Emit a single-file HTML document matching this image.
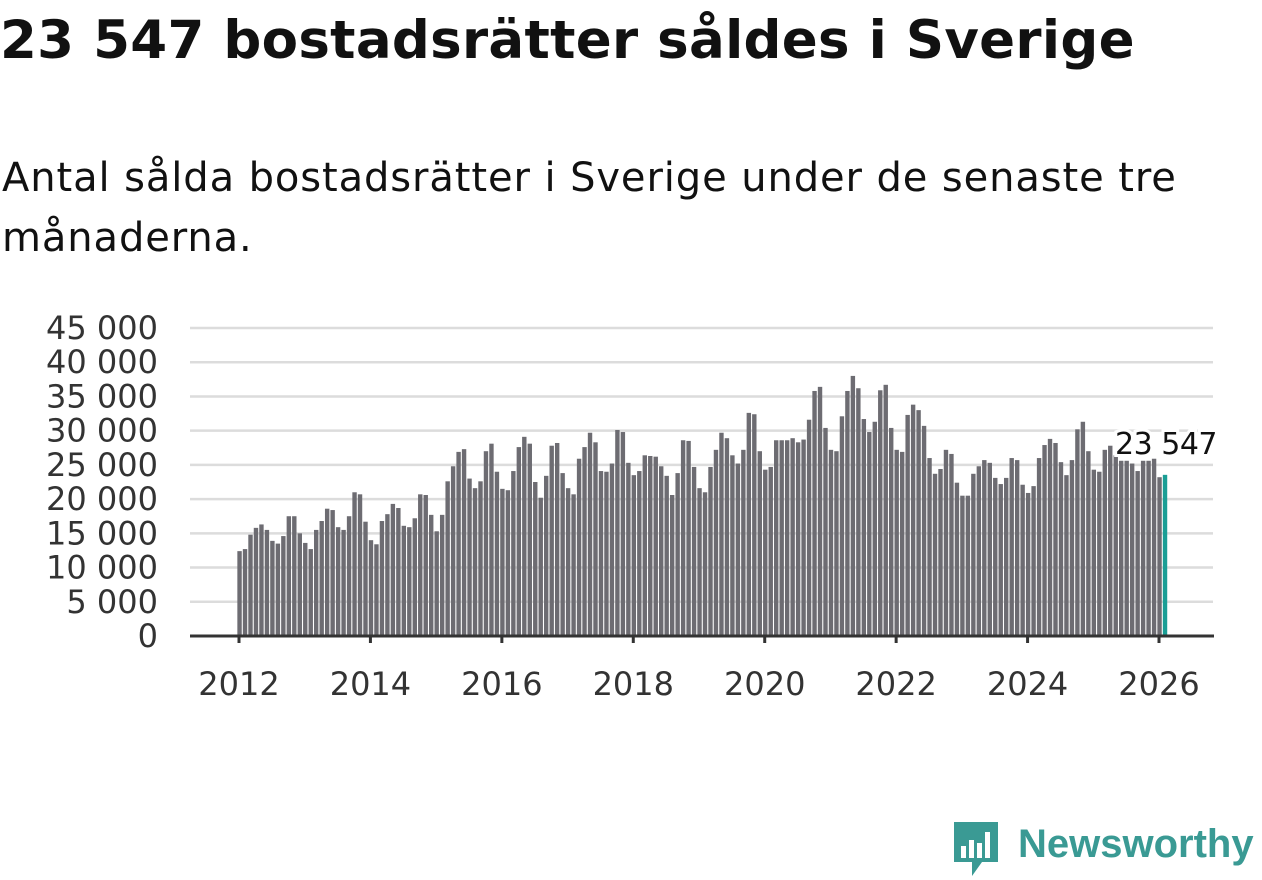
<!DOCTYPE html>
<html><head><meta charset="utf-8"><style>
body{margin:0;width:1262px;height:879px;background:#fff;overflow:hidden;font-family:"DejaVu Sans","Liberation Sans",sans-serif;color:#111}
h1{position:absolute;left:0px;top:10px;margin:0;font-size:53px;font-weight:bold;letter-spacing:0.3px;white-space:nowrap}
p{position:absolute;left:2px;top:148px;margin:0;font-size:40px;line-height:60px;width:1240px;letter-spacing:0.9px}
svg{position:absolute;left:0;top:0}
</style></head><body>
<h1>23 547 bostadsrätter såldes i Sverige</h1>
<p>Antal sålda bostadsrätter i Sverige under de senaste tre<br>månaderna.</p>
<svg id="c" width="1262" height="879"></svg>
<script>
const yTicks=[0,5000,10000,15000,20000,25000,30000,35000,40000,45000];
const yTickLabels=["0","5 000","10 000","15 000","20 000","25 000","30 000","35 000","40 000","45 000"];
const xTicks=[2012,2014,2016,2018,2020,2022,2024,2026];
const startYear=2012;
const values=[
12400,12700,14800,15800,16300,15500,13900,13500,14600,17500,17500,15000,
13600,12700,15500,16800,18600,18400,15900,15500,17500,21000,20700,16700,
14000,13400,16800,17800,19300,18700,16100,15900,17200,20700,20600,17700,
15300,17700,22600,24800,26900,27300,23000,21600,22600,27000,28100,24000,
21500,21300,24100,27600,29100,28100,22500,20200,23400,27800,28200,23800,
21600,20700,25900,27600,29700,28300,24100,24000,25200,30100,29800,25300,
23500,24100,26400,26300,26200,24800,23400,20600,23800,28600,28500,24700,
21600,21000,24700,27200,29700,28900,26400,25200,27200,32600,32400,27000,
24300,24700,28600,28600,28600,28900,28300,28700,31600,35800,36400,30400,
27200,27000,32100,35800,38000,36200,31700,29800,31300,35900,36700,30400,
27200,26900,32300,33800,33000,30700,26000,23700,24400,27200,26600,22400,
20500,20500,23700,24800,25700,25300,23100,22200,23100,26000,25700,22100,
20900,21900,26000,27900,28800,28200,25400,23500,25700,30200,31300,27000,
24300,24000,27200,27800,26400,25600,25600,25200,24100,25600,25600,25900,
23200,23547];
const lastLabel="23 547";
const svg=document.getElementById('c');const NS='http://www.w3.org/2000/svg';
function el(t,a,p){const e=document.createElementNS(NS,t);for(const k in a)e.setAttribute(k,a[k]);(p||svg).appendChild(e);return e;}
const y=v=>636-v*(308/45000);
const x=yr=>239+(yr-2012)*(920/14);
const bw=4.4, mw=920/14/12;
yTicks.forEach((t,i)=>{
 if(t>0){const g=el('line',{x1:190,x2:1213,y1:y(t),y2:y(t),stroke:'#dcdcdc','stroke-width':2.5});
 
 }
 const l=el('text',{x:158,y:y(t)+11,'text-anchor':'end','font-size':32,fill:'#333'});l.textContent=yTickLabels[i];
 
 
});
values.forEach((v,i)=>{
 const cx=x(startYear)+i*mw;
 const last=i===values.length-1;
 const r=el('rect',{x:cx-bw/2+mw*0.1,y:y(v),width:bw,height:636-y(v),fill:last?'#1a9e95':'#6d6c72'});
 
 
});
const ax=el('line',{x1:190,x2:1214,y1:636,y2:636,stroke:'#333','stroke-width':3});


xTicks.forEach(t=>{
 el('line',{x1:x(t),x2:x(t),y1:636,y2:643,stroke:'#333','stroke-width':3});
 const l=el('text',{x:x(t),y:695,'text-anchor':'middle','font-size':32,fill:'#333'});l.textContent=t;
 
 
});
const vl=el('text',{x:1217,y:454,'text-anchor':'end','font-size':30,fill:'#111',stroke:'#fff','stroke-width':6,'paint-order':'stroke','letter-spacing':'-0.5'});vl.textContent=lastLabel;


</script>
<div style="position:absolute;left:952px;top:820px;width:310px;height:60px">
<svg width="50" height="60" style="position:absolute;left:0;top:0"><path d="M2 2h44v40h-16l-10 14v-14h-18z" fill="#3a9a94"/><rect x="9" y="26" width="5" height="12" fill="#fff"/><rect x="17" y="20" width="5" height="18" fill="#fff"/><rect x="25" y="23" width="5" height="15" fill="#fff"/><rect x="33" y="12" width="5" height="26" fill="#fff"/></svg>
<span style="position:absolute;left:66px;top:2px;font-size:40px;font-weight:bold;color:#3a9a94;font-family:'Liberation Sans',sans-serif">Newsworthy</span></div>
</body></html>
